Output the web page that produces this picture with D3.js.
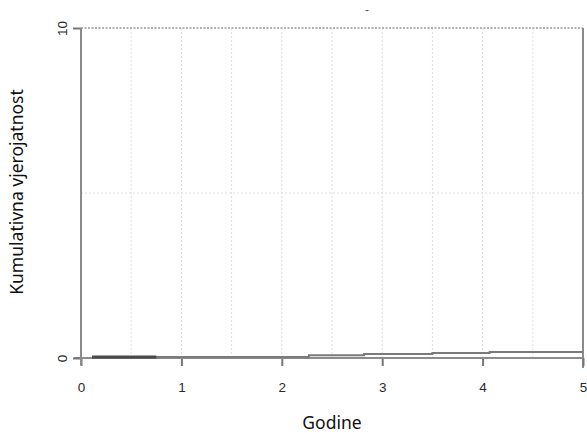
<!DOCTYPE html>
<html><head><meta charset="utf-8">
<script src="https://cdn.jsdelivr.net/npm/d3@7"></script>
<style>body{margin:0;background:#fff}svg{display:block}</style>
</head><body><div id="c"></div>
<script>
const xTicks = [0, 1, 2, 3, 4, 5];
const yTicks = [0, 10];
const xGrid = [0.5, 1, 1.5, 2, 2.5, 3, 3.5, 4, 4.5];
const yGrid = [5];
// step curves: [time, cumulative probability]
const seriesUpper = [[0.11, 0.0], [0.75, 0.03], [2.27, 0.08], [2.82, 0.12], [3.5, 0.15], [4.07, 0.18], [5, 0.18]];
const seriesLower = [[0, 0], [5, 0]];
const seriesEarly = [[0.11, 0.0], [0.75, 0.0]];

const W = 587, H = 433;
const svg = d3.select("#c").append("svg").attr("width", W).attr("height", H);
const x = d3.scaleLinear().domain([0, 5]).range([81, 583]);
const y = d3.scaleLinear().domain([0, 10]).range([358, 28]);

// grid
svg.append("g").selectAll("line").data(xGrid).join("line")
  .attr("x1", d => x(d)).attr("x2", d => x(d)).attr("y1", y(10)).attr("y2", y(0))
  .attr("stroke", "#dedede").attr("stroke-width", 1).attr("stroke-dasharray", "2,2");
svg.append("g").selectAll("line").data(yGrid).join("line")
  .attr("x1", x(0)).attr("x2", x(5)).attr("y1", d => y(d)).attr("y2", d => y(d))
  .attr("stroke", "#dedede").attr("stroke-width", 1).attr("stroke-dasharray", "2,2");
// top dotted border
svg.append("line").attr("x1", x(0)).attr("x2", x(5)).attr("y1", y(10)).attr("y2", y(10))
  .attr("stroke", "#9a9a9a").attr("stroke-width", 1.5).attr("stroke-dasharray", "2,1.5");
// right border
svg.append("line").attr("x1", x(5)).attr("x2", x(5)).attr("y1", y(10)).attr("y2", y(0) + 10)
  .attr("stroke", "#8a8a8a").attr("stroke-width", 2);

// axes
const xAxis = d3.axisBottom(x).tickValues(xTicks).tickSize(8).tickFormat(d3.format("d"));
const gx = svg.append("g").attr("transform", `translate(0,${y(0)})`).call(xAxis);
gx.select(".domain").remove();
gx.append("line").attr("x1", x(0) - 7).attr("x2", x(5)).attr("y1", 0).attr("y2", 0)
  .attr("stroke", "#8a8a8a").attr("stroke-width", 2);
gx.selectAll(".tick line").attr("stroke", "#777").attr("stroke-width", 2);
gx.selectAll(".tick text").attr("fill", "#2a2a2a").attr("font-family", "Liberation Sans, Arial, sans-serif")
  .attr("font-size", 13.5).attr("dy", "0.71em").attr("y", 24);

const yAxis = d3.axisLeft(y).tickValues(yTicks).tickSize(8);
const gy = svg.append("g").attr("transform", `translate(${x(0)},0)`).call(yAxis);
gy.select(".domain").remove();
gy.append("line").attr("x1", 0).attr("x2", 0).attr("y1", y(10)).attr("y2", y(0) + 7)
  .attr("stroke", "#8a8a8a").attr("stroke-width", 2);
gy.selectAll(".tick line").attr("stroke", "#777").attr("stroke-width", 2);
gy.selectAll(".tick text").attr("fill", "#2a2a2a").attr("font-family", "Liberation Sans, Arial, sans-serif")
  .attr("font-size", 13.5).attr("x", 0).attr("y", 0).attr("dy", null)
  .attr("text-anchor", "middle")
  .attr("transform", "translate(-14,0) rotate(-90)");

// lines
const stepLine = d3.line().x(d => x(d[0])).y(d => y(d[1])).curve(d3.curveStepAfter);
svg.append("path").datum(seriesLower).attr("d", stepLine).attr("fill", "none")
  .attr("stroke", "#8c8c8c").attr("stroke-width", 2);
svg.append("path").datum(seriesUpper).attr("d", stepLine).attr("fill", "none")
  .attr("stroke", "#7a7a7a").attr("stroke-width", 2);
svg.append("path").datum(seriesEarly).attr("d", stepLine).attr("fill", "none")
  .attr("stroke", "#4a4a4a").attr("stroke-width", 3).attr("transform", "translate(0,-1)");

// titles
svg.append("text").attr("x", 332).attr("y", 429).attr("text-anchor", "middle")
  .attr("font-family", "'Noto Sans', Lato, sans-serif").attr("font-size", 17.5).attr("fill", "#111")
  .text("Godine");
svg.append("text").attr("transform", `translate(23,${y(5) - 1}) rotate(-90)`).attr("text-anchor", "middle")
  .attr("font-family", "'Noto Sans', Lato, sans-serif").attr("font-size", 17.5).attr("fill", "#111")
  .text("Kumulativna vjerojatnost");
svg.append("text").attr("x", 367).attr("y", 14).attr("text-anchor", "middle")
  .attr("font-family", "Liberation Sans, Arial, sans-serif").attr("font-size", 12).attr("fill", "#555")
  .text("-");
</script></body></html>
